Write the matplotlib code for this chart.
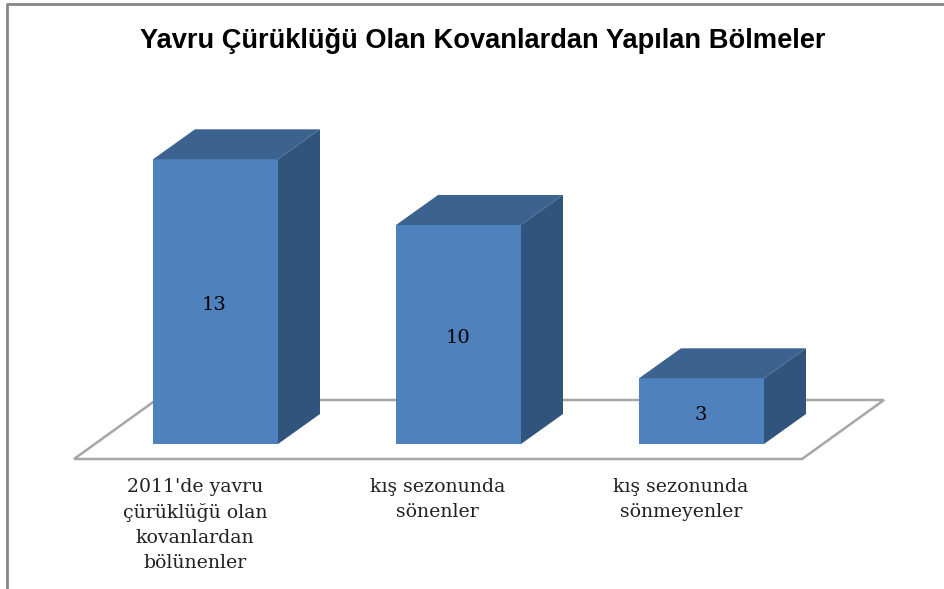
import matplotlib
matplotlib.use("Agg")
import matplotlib.pyplot as plt
from matplotlib.patches import Polygon

TITLE = "Yavru Çürüklüğü Olan Kovanlardan Yapılan Bölmeler"
labels = ["2011'de yavru\nçürüklüğü olan\nkovanlardan\nbölünenler",
          "kış sezonunda\nsönenler",
          "kış sezonunda\nsönmeyenler"]
values = [13, 10, 3]

FRONT = "#4f81bd"
TOP = "#3c6390"
SIDE = "#31547c"
GRAY = "#a6a6a6"

W, H = 944, 589
X0, STEP = 215.5, 243.0     # px of first bar centre, px per category
Y0, UNIT = 444.0, 21.9      # px of baseline, px per count

# depth of the 3d look, converted to data units
BAR_W = 125 / STEP
DX = 42 / STEP
DY = 30 / UNIT

fig = plt.figure(figsize=(W / 100, H / 100), dpi=100)
ax = fig.add_axes([0, 0, 1, 1])
ax.set_xlim(-X0 / STEP, (W - X0) / STEP)
ax.set_ylim((Y0 - H) / UNIT, Y0 / UNIT)
ax.axis("off")

# floor
fy0 = -15 / UNIT
fdx = 82 / STEP
fdy = 59 / UNIT
fl, fr = (74 - X0) / STEP, (802 - X0) / STEP
ax.add_patch(Polygon([(fl, fy0), (fr, fy0), (fr + fdx, fy0 + fdy), (fl + fdx, fy0 + fdy)],
                     closed=True, fc="white", ec=GRAY, lw=1.8, zorder=1))

for i, v in enumerate(values):
    l, r = i - BAR_W / 2, i + BAR_W / 2
    ax.add_patch(Polygon([(l, 0), (r, 0), (r, v), (l, v)], fc=FRONT, ec="none", zorder=3))
    ax.add_patch(Polygon([(l, v), (r, v), (r + DX, v + DY), (l + DX, v + DY)], fc=TOP, ec="none", zorder=3))
    ax.add_patch(Polygon([(r, 0), (r + DX, DY), (r + DX, v + DY), (r, v)], fc=SIDE, ec="none", zorder=3))
    ax.text(i - 0.004, v / 2 - 0.16, str(v), ha="center", va="center", fontsize=14,
            family="DejaVu Serif", color="black", zorder=4)
    ax.text(i - 0.085, -1.55, labels[i], ha="center", va="top", fontsize=13.6,
            family="DejaVu Serif", color="#222222", linespacing=1.5)

ax.text(0.5 + 10.5 / W, 0.93, TITLE, transform=ax.transAxes, ha="center", va="center",
        fontsize=19.6, fontweight="bold", family="Liberation Sans", color="black")

# chart frame, only top and left are in the crop
ax.plot([6.8 / W, 6.8 / W, 1], [0, 1 - 4 / H, 1 - 4 / H], transform=ax.transAxes,
        color="#868686", lw=2, clip_on=False)

fig.savefig("out.png", dpi=100)
